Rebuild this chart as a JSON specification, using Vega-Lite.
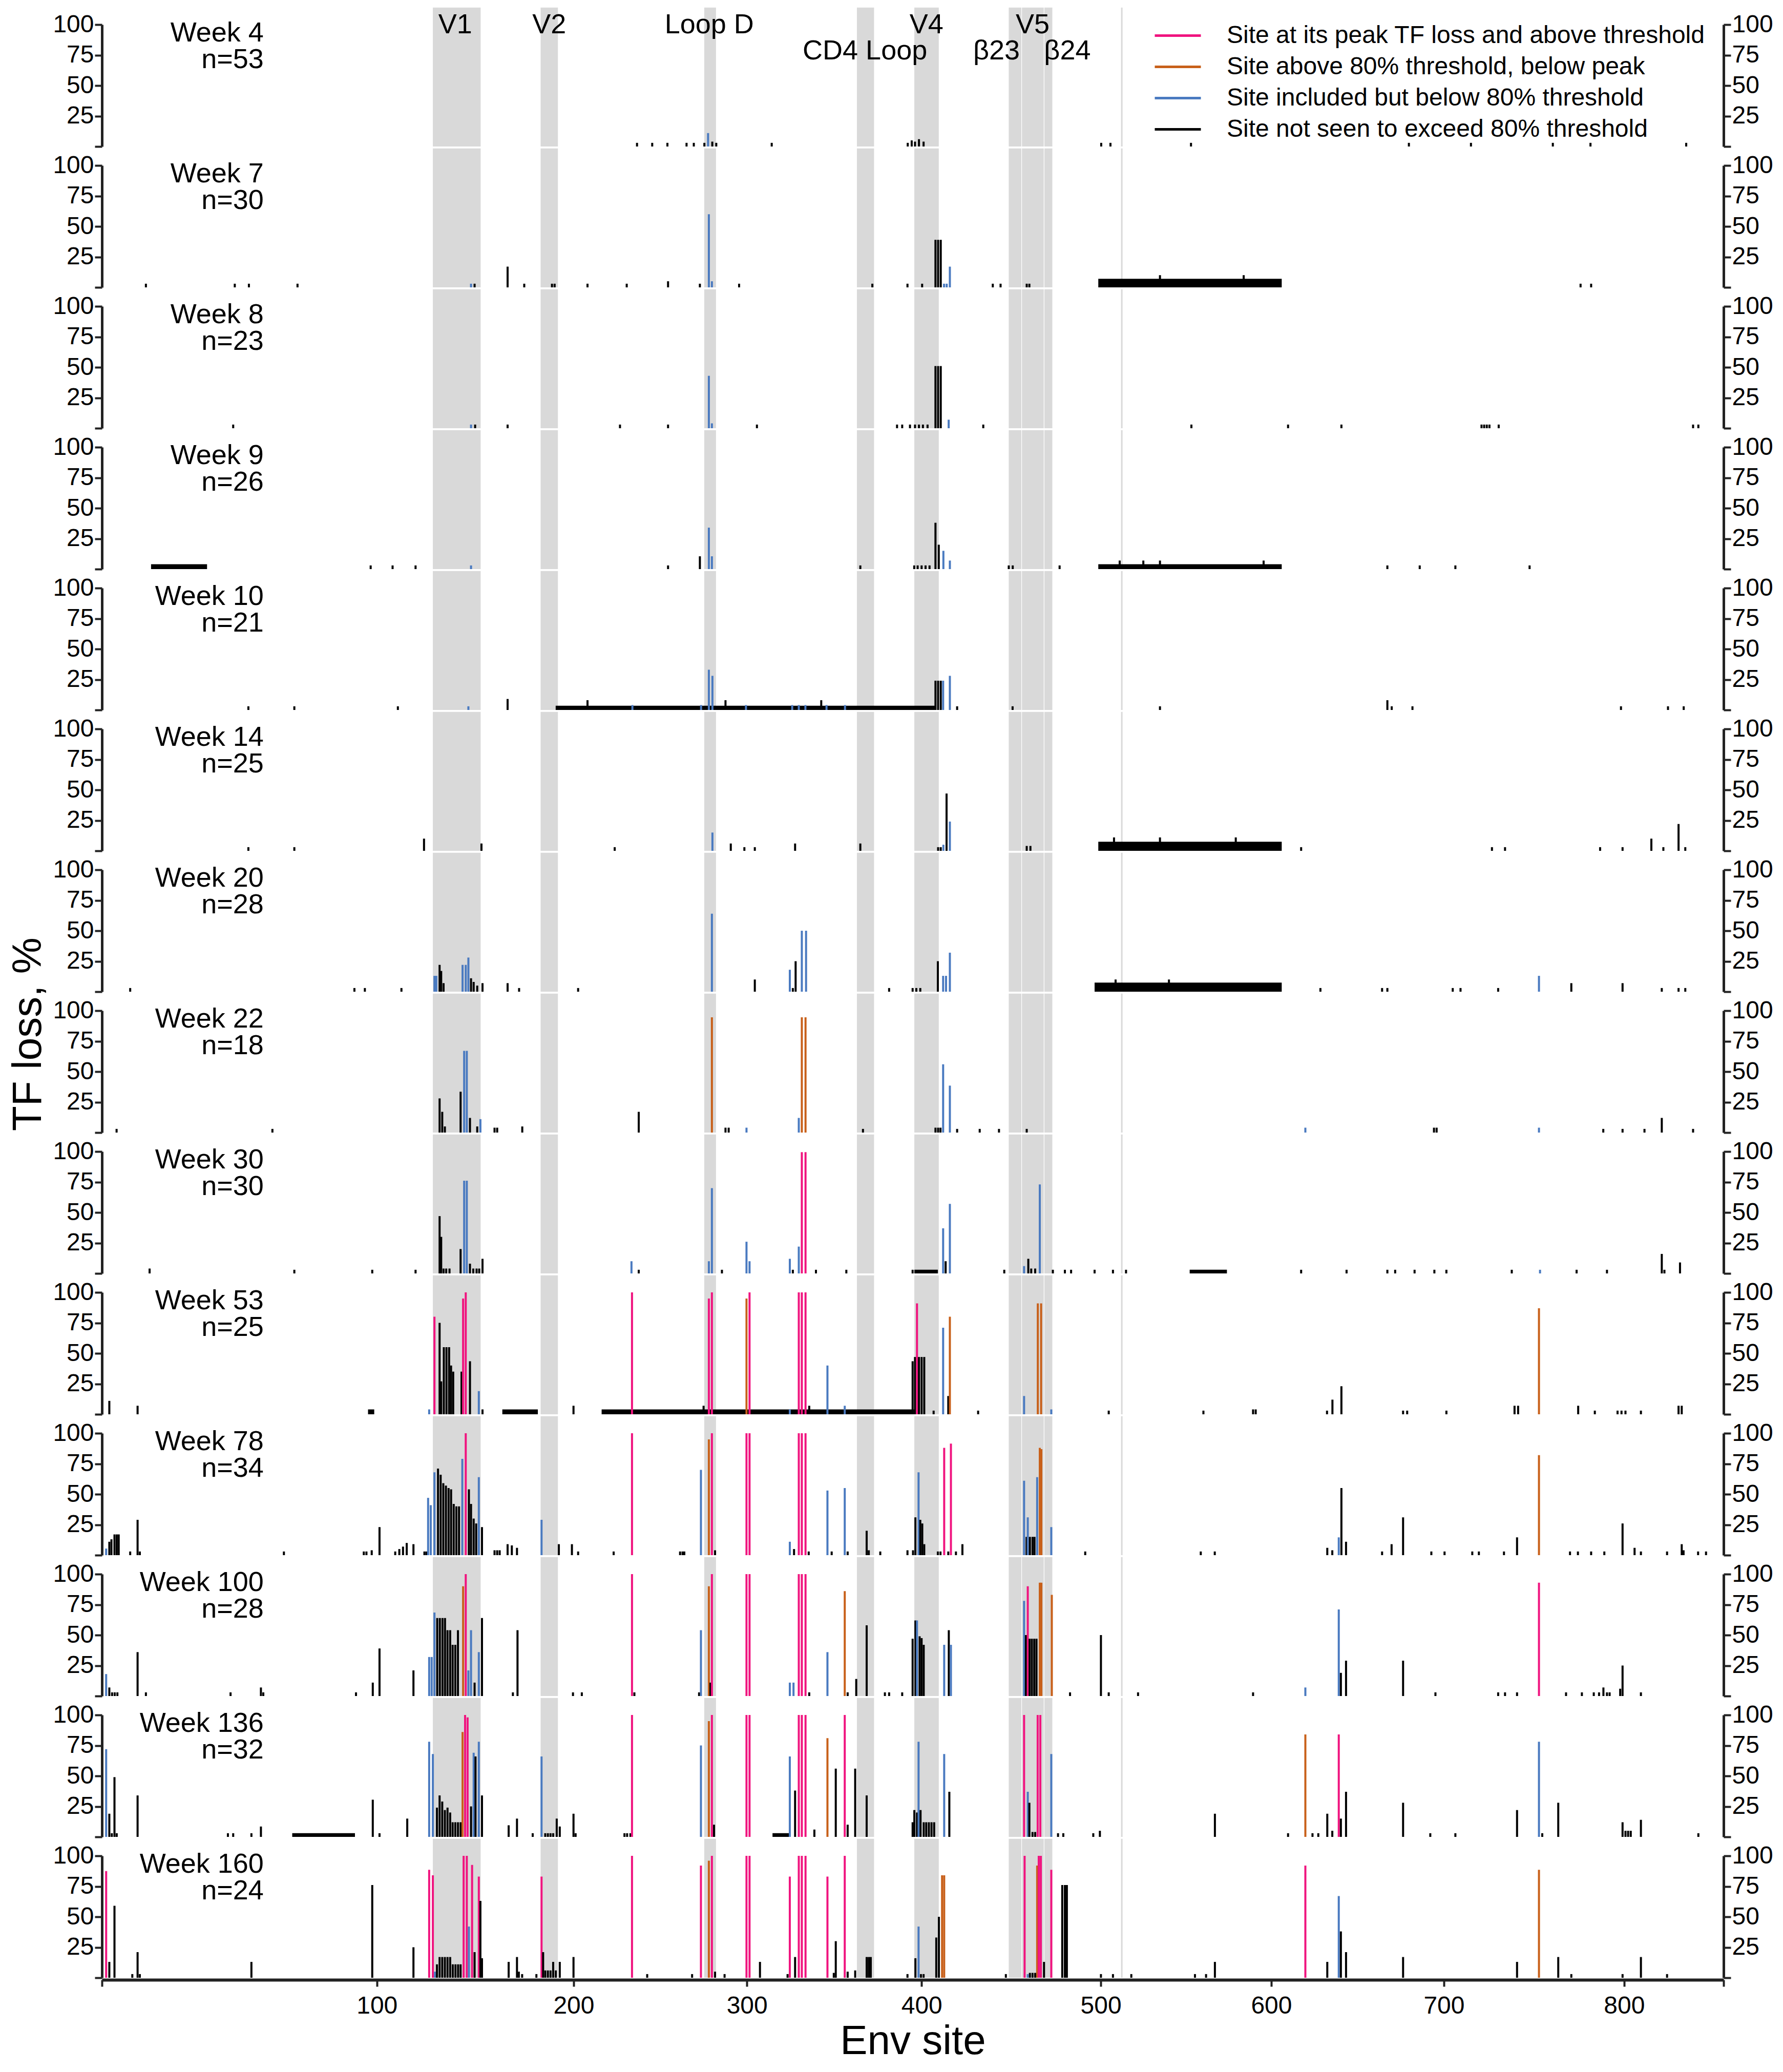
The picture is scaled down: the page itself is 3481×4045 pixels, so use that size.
{
  "$schema": "https://vega.github.io/schema/vega-lite/v6.json",
  "background": "white",
  "autosize": {"type": "pad"},
  "padding": {"top": 13, "left": 15, "right": 5, "bottom": 2},
  "spacing": 0,
  "title": {"text": "TF loss, %", "orient": "left", "anchor": "middle", "font": "Liberation Sans", "fontSize": 80, "fontWeight": "normal", "color": "#000000", "offset": 6},
  "config": {
    "view": {"stroke": null},
    "font": "Liberation Sans",
    "axis": {"labelFont": "Liberation Sans", "labelFontSize": 48, "labelColor": "#000000", "domainColor": "#222222", "domainWidth": 5, "tickColor": "#222222", "tickWidth": 4, "tickSize": 14, "labelPadding": 2, "grid": false, "titleFont": "Liberation Sans", "titleFontSize": 80, "titleFontWeight": "normal", "titleColor": "#000000"},
    "range": {"category": ["#f0147f", "#c8601a", "#4a7ac0", "#000000"]},
    "legend": {"orient": "none", "legendX": 2053, "legendY": -9, "symbolType": "stroke", "symbolSize": 8100, "symbolStrokeWidth": 5, "labelFont": "Liberation Sans", "labelFontSize": 48, "labelColor": "#000000", "labelOffset": 48, "rowPadding": 0, "clipHeight": 61, "labelLimit": 0},
    "text": {"font": "Liberation Sans", "color": "#000000"}
  },
  "datasets": {
    "bands": [
      {"name": "V1", "site": 325.9, "site_end": 362.1},
      {"name": "V2", "site": 407.5, "site_end": 420.6},
      {"name": "Loop D", "site": 531.4, "site_end": 540.3},
      {"name": "CD4 Loop", "site": 647, "site_end": 660},
      {"name": "V4", "site": 690.5, "site_end": 709},
      {"name": "β23", "site": 762, "site_end": 771.5},
      {"name": "V5", "site": 772, "site_end": 788.5},
      {"name": "β24", "site": 789, "site_end": 795}
    ],
    "bandlabels": [
      {"name": "V1", "site": 342.8, "line": 1},
      {"name": "V2", "site": 414, "line": 1},
      {"name": "Loop D", "site": 535.2, "line": 1},
      {"name": "CD4 Loop", "site": 653.1, "line": 2},
      {"name": "V4", "site": 699.7, "line": 1},
      {"name": "β23", "site": 752.7, "line": 2},
      {"name": "V5", "site": 780.1, "line": 1},
      {"name": "β24", "site": 806.4, "line": 2}
    ],
    "guide": [{"site": 847.6}],
    "panels": [
      {"week": 4, "label": "Week 4\nn=53"},
      {"week": 7, "label": "Week 7\nn=30"},
      {"week": 8, "label": "Week 8\nn=23"},
      {"week": 9, "label": "Week 9\nn=26"},
      {"week": 10, "label": "Week 10\nn=21"},
      {"week": 14, "label": "Week 14\nn=25"},
      {"week": 20, "label": "Week 20\nn=28"},
      {"week": 22, "label": "Week 22\nn=18"},
      {"week": 30, "label": "Week 30\nn=30"},
      {"week": 53, "label": "Week 53\nn=25"},
      {"week": 78, "label": "Week 78\nn=34"},
      {"week": 100, "label": "Week 100\nn=28"},
      {"week": 136, "label": "Week 136\nn=32"},
      {"week": 160, "label": "Week 160\nn=24"}
    ],
    "runs": [
      {"week": 7, "site": 829.8, "site_end": 968.7, "v": 7},
      {"week": 9, "site": 112.5, "site_end": 154.9, "v": 4},
      {"week": 9, "site": 829.8, "site_end": 968.7, "v": 4},
      {"week": 10, "site": 418.9, "site_end": 706, "v": 3.5},
      {"week": 14, "site": 829.8, "site_end": 968.7, "v": 7.5},
      {"week": 20, "site": 827, "site_end": 968.7, "v": 7.5},
      {"week": 30, "site": 690.5, "site_end": 708.3, "v": 3},
      {"week": 30, "site": 899, "site_end": 927.2, "v": 3},
      {"week": 53, "site": 276.8, "site_end": 281.5, "v": 4},
      {"week": 53, "site": 378.5, "site_end": 405.4, "v": 4},
      {"week": 53, "site": 453.7, "site_end": 690.4, "v": 4},
      {"week": 136, "site": 219.4, "site_end": 266.9, "v": 3},
      {"week": 136, "site": 583.1, "site_end": 596.2, "v": 3}
    ],
    "bars": [
      {"week":4,"site":480.5,"v":3,"k":4},{"week":4,"site":492,"v":3,"k":4},{"week":4,"site":503.5,"v":3,"k":4},{"week":4,"site":518,"v":3,"k":4},{"week":4,"site":523.5,"v":3,"k":4},{"week":4,"site":531.5,"v":3,"k":4},{"week":4,"site":534.3,"v":11,"k":3},{"week":4,"site":537.5,"v":4,"k":4},{"week":4,"site":540.5,"v":3,"k":4},{"week":4,"site":582.5,"v":3,"k":4},{"week":4,"site":685.5,"v":3,"k":4},{"week":4,"site":688.5,"v":5,"k":4},{"week":4,"site":691,"v":4,"k":4},{"week":4,"site":694,"v":6,"k":4},{"week":4,"site":697.5,"v":4,"k":4},{"week":4,"site":832,"v":3,"k":4},{"week":4,"site":839,"v":3,"k":4},{"week":4,"site":900,"v":3,"k":4},{"week":4,"site":1065,"v":3,"k":4},{"week":4,"site":1112,"v":3,"k":4},{"week":4,"site":1174,"v":3,"k":4},{"week":4,"site":1202.5,"v":3,"k":4},{"week":4,"site":1275,"v":3,"k":4},

      {"week":7,"site":108.6,"v":3,"k":4},{"week":7,"site":175.9,"v":3,"k":4},{"week":7,"site":186.6,"v":3,"k":4},{"week":7,"site":223.4,"v":3,"k":4},{"week":7,"site":354.8,"v":3,"k":3},{"week":7,"site":357.5,"v":3,"k":4},{"week":7,"site":382.5,"v":17,"k":4},{"week":7,"site":395.1,"v":3,"k":4},{"week":7,"site":416.1,"v":3,"k":4},{"week":7,"site":418.1,"v":3,"k":4},{"week":7,"site":443,"v":3,"k":4},{"week":7,"site":472.7,"v":3,"k":4},{"week":7,"site":504,"v":5,"k":4},{"week":7,"site":528.1,"v":3,"k":4},{"week":7,"site":534.9,"v":60,"k":3},{"week":7,"site":537.2,"v":5,"k":3},{"week":7,"site":557.8,"v":3,"k":4},{"week":7,"site":658.7,"v":3,"k":4},{"week":7,"site":685.3,"v":3,"k":4},{"week":7,"site":696.4,"v":3,"k":4},{"week":7,"site":706.5,"v":39,"k":4},{"week":7,"site":708.5,"v":39,"k":4},{"week":7,"site":710.5,"v":39,"k":4},{"week":7,"site":713,"v":3,"k":3},{"week":7,"site":715,"v":3,"k":3},{"week":7,"site":717.4,"v":17,"k":3},{"week":7,"site":749.9,"v":3,"k":4},{"week":7,"site":755.8,"v":3,"k":4},{"week":7,"site":775.6,"v":3,"k":4},{"week":7,"site":777.6,"v":3,"k":4},{"week":7,"site":876.5,"v":10,"k":4},{"week":7,"site":939.9,"v":10,"k":4},{"week":7,"site":1195,"v":3,"k":4},{"week":7,"site":1203,"v":3,"k":4},

      {"week":8,"site":174.7,"v":3,"k":4},{"week":8,"site":354.8,"v":3,"k":3},{"week":8,"site":357.9,"v":3,"k":4},{"week":8,"site":382.5,"v":3,"k":4},{"week":8,"site":467.6,"v":3,"k":4},{"week":8,"site":504,"v":3,"k":4},{"week":8,"site":534.9,"v":43,"k":3},{"week":8,"site":537.2,"v":4,"k":3},{"week":8,"site":571.3,"v":3,"k":4},{"week":8,"site":677.4,"v":3,"k":4},{"week":8,"site":681.3,"v":3,"k":4},{"week":8,"site":687.2,"v":3,"k":4},{"week":8,"site":691,"v":3,"k":4},{"week":8,"site":694,"v":3,"k":4},{"week":8,"site":697,"v":3,"k":4},{"week":8,"site":700.5,"v":3,"k":4},{"week":8,"site":706.5,"v":51,"k":4},{"week":8,"site":708.5,"v":51,"k":4},{"week":8,"site":710.5,"v":51,"k":4},{"week":8,"site":716.5,"v":7,"k":3},{"week":8,"site":742.7,"v":3,"k":4},{"week":8,"site":900.3,"v":3,"k":4},{"week":8,"site":973.5,"v":3,"k":4},{"week":8,"site":1013.9,"v":3,"k":4},{"week":8,"site":1120,"v":3,"k":4},{"week":8,"site":1122,"v":3,"k":4},{"week":8,"site":1124,"v":3,"k":4},{"week":8,"site":1126,"v":3,"k":4},{"week":8,"site":1133,"v":3,"k":4},{"week":8,"site":1280.2,"v":3,"k":4},{"week":8,"site":1284.2,"v":3,"k":4},

      {"week":9,"site":278.8,"v":3,"k":4},{"week":9,"site":295.4,"v":3,"k":4},{"week":9,"site":312.8,"v":3,"k":4},{"week":9,"site":354.8,"v":3,"k":3},{"week":9,"site":504,"v":3,"k":4},{"week":9,"site":528.1,"v":10.5,"k":4},{"week":9,"site":534.9,"v":34,"k":3},{"week":9,"site":537.2,"v":10.5,"k":3},{"week":9,"site":649.6,"v":3,"k":4},{"week":9,"site":690.4,"v":3,"k":4},{"week":9,"site":693,"v":3,"k":4},{"week":9,"site":696,"v":3,"k":4},{"week":9,"site":699,"v":3,"k":4},{"week":9,"site":702,"v":3,"k":4},{"week":9,"site":706.5,"v":38,"k":4},{"week":9,"site":709,"v":20,"k":4},{"week":9,"site":712.5,"v":15,"k":3},{"week":9,"site":717.4,"v":7,"k":3},{"week":9,"site":762,"v":3,"k":4},{"week":9,"site":765,"v":3,"k":4},{"week":9,"site":800.5,"v":3,"k":4},{"week":9,"site":846,"v":7,"k":4},{"week":9,"site":863.9,"v":7,"k":4},{"week":9,"site":876.5,"v":7,"k":4},{"week":9,"site":955,"v":7,"k":4},{"week":9,"site":1048.7,"v":3,"k":4},{"week":9,"site":1073.2,"v":3,"k":4},{"week":9,"site":1100.2,"v":3,"k":4},{"week":9,"site":1156.4,"v":3,"k":4},

      {"week":10,"site":186.2,"v":3,"k":4},{"week":10,"site":221,"v":3,"k":4},{"week":10,"site":299.4,"v":3,"k":4},{"week":10,"site":352.8,"v":3,"k":3},{"week":10,"site":382.5,"v":9,"k":4},{"week":10,"site":443,"v":8,"k":4},{"week":10,"site":477,"v":4,"k":3},{"week":10,"site":529,"v":4,"k":3},{"week":10,"site":534.9,"v":33,"k":3},{"week":10,"site":537.6,"v":28,"k":3},{"week":10,"site":547.5,"v":8,"k":4},{"week":10,"site":563,"v":4,"k":3},{"week":10,"site":598,"v":4,"k":3},{"week":10,"site":603,"v":4,"k":3},{"week":10,"site":608,"v":4,"k":3},{"week":10,"site":620,"v":8,"k":4},{"week":10,"site":624,"v":4,"k":3},{"week":10,"site":638,"v":4,"k":3},{"week":10,"site":706.5,"v":24,"k":4},{"week":10,"site":708.5,"v":24,"k":4},{"week":10,"site":710.5,"v":24,"k":4},{"week":10,"site":712.3,"v":24,"k":3},{"week":10,"site":717.4,"v":28,"k":3},{"week":10,"site":722.9,"v":3,"k":4},{"week":10,"site":764.9,"v":3,"k":4},{"week":10,"site":876.5,"v":3,"k":4},{"week":10,"site":1048.7,"v":8,"k":4},{"week":10,"site":1052,"v":3,"k":4},{"week":10,"site":1067.7,"v":3,"k":4},{"week":10,"site":1225.6,"v":3,"k":4},{"week":10,"site":1261.2,"v":3,"k":4},{"week":10,"site":1273.1,"v":3,"k":4},

      {"week":14,"site":186.2,"v":3,"k":4},{"week":14,"site":221,"v":3,"k":4},{"week":14,"site":319.2,"v":10,"k":4},{"week":14,"site":362.7,"v":6,"k":4},{"week":14,"site":463.6,"v":3,"k":4},{"week":14,"site":537.6,"v":15,"k":3},{"week":14,"site":551.5,"v":6,"k":4},{"week":14,"site":561.8,"v":3,"k":4},{"week":14,"site":569.7,"v":3,"k":4},{"week":14,"site":600.2,"v":6,"k":4},{"week":14,"site":649.6,"v":6,"k":4},{"week":14,"site":708.5,"v":3,"k":4},{"week":14,"site":710.5,"v":3,"k":4},{"week":14,"site":712.5,"v":5,"k":3},{"week":14,"site":714.9,"v":47,"k":4},{"week":14,"site":717.4,"v":24,"k":3},{"week":14,"site":775.6,"v":4,"k":4},{"week":14,"site":778.4,"v":4,"k":4},{"week":14,"site":841.7,"v":11,"k":4},{"week":14,"site":876.5,"v":11,"k":4},{"week":14,"site":933.9,"v":11,"k":4},{"week":14,"site":983.4,"v":3,"k":4},{"week":14,"site":1127.9,"v":3,"k":4},{"week":14,"site":1137.8,"v":3,"k":4},{"week":14,"site":1209.8,"v":3,"k":4},{"week":14,"site":1226.8,"v":3,"k":4},{"week":14,"site":1248.6,"v":10,"k":4},{"week":14,"site":1257.7,"v":3,"k":4},{"week":14,"site":1269.2,"v":22,"k":4},{"week":14,"site":1274.3,"v":3,"k":4},

      {"week":20,"site":96.7,"v":3,"k":4},{"week":20,"site":266.5,"v":3,"k":4},{"week":20,"site":274.4,"v":3,"k":4},{"week":20,"site":302.1,"v":3,"k":4},{"week":20,"site":327.1,"v":13,"k":3},{"week":20,"site":328.5,"v":13,"k":3},{"week":20,"site":331,"v":22,"k":4},{"week":20,"site":332.2,"v":17,"k":4},{"week":20,"site":334,"v":7,"k":4},{"week":20,"site":348.4,"v":22,"k":3},{"week":20,"site":350.8,"v":22,"k":3},{"week":20,"site":352.8,"v":28,"k":3},{"week":20,"site":354.8,"v":11,"k":4},{"week":20,"site":356.8,"v":8,"k":4},{"week":20,"site":359.5,"v":5,"k":4},{"week":20,"site":363.5,"v":7,"k":4},{"week":20,"site":382.5,"v":7,"k":4},{"week":20,"site":391.2,"v":3,"k":4},{"week":20,"site":435.9,"v":3,"k":4},{"week":20,"site":537.2,"v":64,"k":3},{"week":20,"site":569.7,"v":10,"k":4},{"week":20,"site":596.2,"v":18,"k":3},{"week":20,"site":598.5,"v":3,"k":4},{"week":20,"site":600.6,"v":25,"k":4},{"week":20,"site":605.3,"v":50,"k":3},{"week":20,"site":608.5,"v":50,"k":3},{"week":20,"site":671.4,"v":3,"k":4},{"week":20,"site":689.2,"v":3,"k":4},{"week":20,"site":692,"v":3,"k":4},{"week":20,"site":695,"v":3,"k":4},{"week":20,"site":708.3,"v":25,"k":4},{"week":20,"site":712.3,"v":13,"k":3},{"week":20,"site":714.5,"v":13,"k":3},{"week":20,"site":717.4,"v":32,"k":3},{"week":20,"site":842.9,"v":10,"k":4},{"week":20,"site":883.3,"v":10,"k":4},{"week":20,"site":998,"v":3,"k":4},{"week":20,"site":1044.7,"v":3,"k":4},{"week":20,"site":1048.7,"v":3,"k":4},{"week":20,"site":1098.2,"v":3,"k":4},{"week":20,"site":1104.1,"v":3,"k":4},{"week":20,"site":1132.6,"v":3,"k":4},{"week":20,"site":1163.5,"v":13,"k":3},{"week":20,"site":1188,"v":7,"k":4},{"week":20,"site":1226.8,"v":7,"k":4},{"week":20,"site":1256.5,"v":3,"k":4},{"week":20,"site":1269.2,"v":3,"k":4},{"week":20,"site":1274.3,"v":3,"k":4},

      {"week":22,"site":86.4,"v":3,"k":4},{"week":22,"site":204.4,"v":3,"k":4},{"week":22,"site":331,"v":28,"k":4},{"week":22,"site":333,"v":17,"k":4},{"week":22,"site":335,"v":5,"k":4},{"week":22,"site":346.9,"v":33.5,"k":4},{"week":22,"site":349.6,"v":67,"k":3},{"week":22,"site":351.6,"v":67,"k":3},{"week":22,"site":354,"v":12,"k":4},{"week":22,"site":359.5,"v":5,"k":4},{"week":22,"site":361.9,"v":11,"k":3},{"week":22,"site":372.6,"v":4,"k":4},{"week":22,"site":374.6,"v":4,"k":4},{"week":22,"site":393.6,"v":5,"k":4},{"week":22,"site":481.8,"v":17,"k":4},{"week":22,"site":537.2,"v":94.5,"k":2},{"week":22,"site":547.5,"v":4,"k":4},{"week":22,"site":549.9,"v":4,"k":4},{"week":22,"site":563.4,"v":4,"k":3},{"week":22,"site":603,"v":12,"k":3},{"week":22,"site":605.3,"v":94.5,"k":2},{"week":22,"site":608.1,"v":94.5,"k":2},{"week":22,"site":651.6,"v":3,"k":4},{"week":22,"site":706.5,"v":4,"k":4},{"week":22,"site":708.5,"v":4,"k":4},{"week":22,"site":710.3,"v":4,"k":4},{"week":22,"site":712.3,"v":56,"k":3},{"week":22,"site":717.4,"v":38.5,"k":3},{"week":22,"site":722.9,"v":3,"k":4},{"week":22,"site":740,"v":3,"k":4},{"week":22,"site":754.6,"v":3,"k":4},{"week":22,"site":775.6,"v":3,"k":4},{"week":22,"site":986.6,"v":4,"k":3},{"week":22,"site":1084,"v":4,"k":4},{"week":22,"site":1086,"v":4,"k":4},{"week":22,"site":1163.5,"v":4,"k":3},{"week":22,"site":1212.2,"v":3,"k":4},{"week":22,"site":1226.8,"v":3,"k":4},{"week":22,"site":1243.4,"v":3,"k":4},{"week":22,"site":1256.5,"v":12,"k":4},{"week":22,"site":1280.2,"v":3,"k":4},

      {"week":30,"site":111.4,"v":4,"k":4},{"week":30,"site":221,"v":3,"k":4},{"week":30,"site":280,"v":3,"k":4},{"week":30,"site":312.8,"v":3,"k":4},{"week":30,"site":331,"v":47,"k":4},{"week":30,"site":332.2,"v":30,"k":4},{"week":30,"site":334,"v":4,"k":4},{"week":30,"site":336,"v":4,"k":4},{"week":30,"site":338.5,"v":4,"k":4},{"week":30,"site":346.9,"v":20,"k":4},{"week":30,"site":349.6,"v":76,"k":3},{"week":30,"site":351.6,"v":76,"k":3},{"week":30,"site":354,"v":8,"k":4},{"week":30,"site":356.5,"v":4,"k":4},{"week":30,"site":359,"v":4,"k":4},{"week":30,"site":361,"v":4,"k":4},{"week":30,"site":363.5,"v":12,"k":4},{"week":30,"site":476.3,"v":10,"k":3},{"week":30,"site":481.8,"v":3,"k":4},{"week":30,"site":534.9,"v":10,"k":3},{"week":30,"site":537.2,"v":70,"k":3},{"week":30,"site":544.8,"v":3,"k":4},{"week":30,"site":563.4,"v":26,"k":3},{"week":30,"site":565.7,"v":10,"k":3},{"week":30,"site":596.2,"v":12,"k":3},{"week":30,"site":598.5,"v":3,"k":4},{"week":30,"site":603,"v":22,"k":3},{"week":30,"site":605.3,"v":99.5,"k":1},{"week":30,"site":608.1,"v":99.5,"k":1},{"week":30,"site":616,"v":3,"k":4},{"week":30,"site":639,"v":3,"k":4},{"week":30,"site":689.2,"v":3,"k":4},{"week":30,"site":712.3,"v":37,"k":3},{"week":30,"site":714.2,"v":10,"k":4},{"week":30,"site":717.4,"v":57,"k":3},{"week":30,"site":758.6,"v":3,"k":4},{"week":30,"site":773.6,"v":6,"k":3},{"week":30,"site":776.8,"v":12,"k":4},{"week":30,"site":779,"v":4,"k":4},{"week":30,"site":782,"v":4,"k":4},{"week":30,"site":785.5,"v":73,"k":3},{"week":30,"site":795.4,"v":3,"k":4},{"week":30,"site":804.5,"v":3,"k":4},{"week":30,"site":809.2,"v":3,"k":4},{"week":30,"site":827,"v":3,"k":4},{"week":30,"site":840.9,"v":3,"k":4},{"week":30,"site":850.8,"v":3,"k":4},{"week":30,"site":983.4,"v":3,"k":4},{"week":30,"site":1017.8,"v":3,"k":4},{"week":30,"site":1048.7,"v":3,"k":4},{"week":30,"site":1054.6,"v":3,"k":4},{"week":30,"site":1069.3,"v":3,"k":4},{"week":30,"site":1084.3,"v":3,"k":4},{"week":30,"site":1093.4,"v":3,"k":4},{"week":30,"site":1142.9,"v":3,"k":4},{"week":30,"site":1164.3,"v":3,"k":3},{"week":30,"site":1192,"v":3,"k":4},{"week":30,"site":1215,"v":3,"k":4},{"week":30,"site":1256.5,"v":16,"k":4},{"week":30,"site":1258.5,"v":3,"k":4},{"week":30,"site":1270.3,"v":9,"k":4},

      {"week":53,"site":80.9,"v":11,"k":4},{"week":53,"site":102.3,"v":7,"k":4},{"week":53,"site":323.1,"v":4,"k":3},{"week":53,"site":327.1,"v":80,"k":1},{"week":53,"site":331,"v":75,"k":4},{"week":53,"site":332.2,"v":27,"k":4},{"week":53,"site":334.2,"v":55,"k":4},{"week":53,"site":336.2,"v":55,"k":4},{"week":53,"site":338.2,"v":55,"k":4},{"week":53,"site":339.7,"v":40,"k":4},{"week":53,"site":341.3,"v":35,"k":4},{"week":53,"site":347.6,"v":35,"k":4},{"week":53,"site":348.8,"v":95,"k":1},{"week":53,"site":350.8,"v":100,"k":1},{"week":53,"site":354,"v":43.5,"k":4},{"week":53,"site":360.7,"v":19,"k":3},{"week":53,"site":363.5,"v":4,"k":4},{"week":53,"site":432.4,"v":7,"k":4},{"week":53,"site":476.7,"v":100,"k":1},{"week":53,"site":530.9,"v":7,"k":4},{"week":53,"site":534.9,"v":95,"k":1},{"week":53,"site":537.2,"v":100,"k":1},{"week":53,"site":563.4,"v":95,"k":2},{"week":53,"site":565.7,"v":100,"k":1},{"week":53,"site":596.2,"v":4,"k":3},{"week":53,"site":603,"v":100,"k":1},{"week":53,"site":605.3,"v":100,"k":1},{"week":53,"site":608.1,"v":100,"k":1},{"week":53,"site":610.9,"v":7,"k":4},{"week":53,"site":624.7,"v":40,"k":3},{"week":53,"site":637.8,"v":7,"k":3},{"week":53,"site":689.2,"v":43.5,"k":4},{"week":53,"site":691,"v":47,"k":4},{"week":53,"site":692.5,"v":91,"k":1},{"week":53,"site":694,"v":47,"k":4},{"week":53,"site":696,"v":47,"k":4},{"week":53,"site":698,"v":47,"k":4},{"week":53,"site":705.1,"v":3,"k":4},{"week":53,"site":712.3,"v":71,"k":3},{"week":53,"site":716.2,"v":15,"k":4},{"week":53,"site":717.4,"v":80,"k":2},{"week":53,"site":738.8,"v":3,"k":4},{"week":53,"site":773.6,"v":15,"k":3},{"week":53,"site":784,"v":91,"k":2},{"week":53,"site":786.5,"v":91,"k":2},{"week":53,"site":794.2,"v":4,"k":3},{"week":53,"site":837.7,"v":3,"k":4},{"week":53,"site":909.4,"v":3,"k":4},{"week":53,"site":947,"v":4,"k":4},{"week":53,"site":949,"v":4,"k":4},{"week":53,"site":1003,"v":3,"k":4},{"week":53,"site":1007.1,"v":12,"k":4},{"week":53,"site":1013.9,"v":23,"k":4},{"week":53,"site":1060.6,"v":3,"k":4},{"week":53,"site":1063.7,"v":3,"k":4},{"week":53,"site":1093.4,"v":3,"k":4},{"week":53,"site":1145,"v":7,"k":4},{"week":53,"site":1147.7,"v":7,"k":4},{"week":53,"site":1163.5,"v":87,"k":2},{"week":53,"site":1193.2,"v":7,"k":4},{"week":53,"site":1205.8,"v":3,"k":4},{"week":53,"site":1223,"v":3,"k":4},{"week":53,"site":1226,"v":3,"k":4},{"week":53,"site":1229,"v":3,"k":4},{"week":53,"site":1240.7,"v":3,"k":4},{"week":53,"site":1269.2,"v":7,"k":4},{"week":53,"site":1271.6,"v":7,"k":4},

      {"week":78,"site":78.5,"v":5.4,"k":3},{"week":78,"site":80.9,"v":11,"k":4},{"week":78,"site":82.5,"v":13,"k":4},{"week":78,"site":84.8,"v":17,"k":4},{"week":78,"site":86.5,"v":17,"k":4},{"week":78,"site":88,"v":17,"k":4},{"week":78,"site":96.7,"v":3,"k":4},{"week":78,"site":102.3,"v":29,"k":4},{"week":78,"site":104,"v":3,"k":4},{"week":78,"site":213.1,"v":3,"k":4},{"week":78,"site":273.6,"v":3,"k":4},{"week":78,"site":275.6,"v":3,"k":4},{"week":78,"site":279.6,"v":4,"k":4},{"week":78,"site":285.5,"v":23,"k":4},{"week":78,"site":297.4,"v":3,"k":4},{"week":78,"site":300.5,"v":5,"k":4},{"week":78,"site":303.3,"v":7,"k":4},{"week":78,"site":306.1,"v":10,"k":4},{"week":78,"site":311.2,"v":9,"k":4},{"week":78,"site":319.5,"v":3,"k":4},{"week":78,"site":321,"v":3,"k":4},{"week":78,"site":322.3,"v":47,"k":3},{"week":78,"site":324.3,"v":41,"k":3},{"week":78,"site":327.1,"v":68,"k":3},{"week":78,"site":329.8,"v":71,"k":4},{"week":78,"site":331.8,"v":66,"k":4},{"week":78,"site":333.8,"v":59,"k":4},{"week":78,"site":335.8,"v":57,"k":4},{"week":78,"site":337.8,"v":55,"k":4},{"week":78,"site":339.7,"v":54,"k":4},{"week":78,"site":341.7,"v":42,"k":4},{"week":78,"site":343.7,"v":40,"k":4},{"week":78,"site":345.7,"v":40,"k":4},{"week":78,"site":348.2,"v":79,"k":3},{"week":78,"site":350.8,"v":100,"k":1},{"week":78,"site":353.2,"v":54,"k":4},{"week":78,"site":354.8,"v":42,"k":4},{"week":78,"site":356.8,"v":30,"k":4},{"week":78,"site":358.7,"v":26,"k":4},{"week":78,"site":360.7,"v":64,"k":3},{"week":78,"site":363.1,"v":23,"k":4},{"week":78,"site":372.6,"v":4,"k":4},{"week":78,"site":374.6,"v":4,"k":4},{"week":78,"site":376.5,"v":4,"k":4},{"week":78,"site":382.5,"v":9,"k":4},{"week":78,"site":385.7,"v":8,"k":4},{"week":78,"site":389.6,"v":6,"k":4},{"week":78,"site":408.2,"v":29,"k":3},{"week":78,"site":421.3,"v":9,"k":4},{"week":78,"site":431.2,"v":9,"k":4},{"week":78,"site":435.9,"v":3,"k":4},{"week":78,"site":462.8,"v":3,"k":4},{"week":78,"site":476.7,"v":100,"k":1},{"week":78,"site":513.1,"v":3,"k":4},{"week":78,"site":515,"v":3,"k":4},{"week":78,"site":516.3,"v":3,"k":4},{"week":78,"site":528.9,"v":70,"k":3},{"week":78,"site":534.9,"v":95,"k":2},{"week":78,"site":537.2,"v":100,"k":1},{"week":78,"site":539.6,"v":4,"k":4},{"week":78,"site":563.4,"v":100,"k":1},{"week":78,"site":565.7,"v":100,"k":1},{"week":78,"site":596.2,"v":11,"k":3},{"week":78,"site":599.4,"v":5,"k":4},{"week":78,"site":603,"v":100,"k":1},{"week":78,"site":605.3,"v":100,"k":1},{"week":78,"site":608.1,"v":100,"k":1},{"week":78,"site":610.5,"v":3,"k":4},{"week":78,"site":624.7,"v":53,"k":3},{"week":78,"site":627.9,"v":3,"k":4},{"week":78,"site":637.8,"v":55,"k":3},{"week":78,"site":640,"v":3,"k":4},{"week":78,"site":654.4,"v":20,"k":4},{"week":78,"site":656,"v":4,"k":4},{"week":78,"site":664.7,"v":3,"k":4},{"week":78,"site":685.3,"v":4,"k":4},{"week":78,"site":689.5,"v":4,"k":4},{"week":78,"site":691.3,"v":31,"k":4},{"week":78,"site":693.7,"v":68,"k":3},{"week":78,"site":695,"v":29,"k":4},{"week":78,"site":696.5,"v":26,"k":4},{"week":78,"site":698,"v":9,"k":4},{"week":78,"site":708.3,"v":3,"k":4},{"week":78,"site":710.3,"v":3,"k":4},{"week":78,"site":713.1,"v":88,"k":1},{"week":78,"site":716.2,"v":3,"k":4},{"week":78,"site":718.2,"v":91.5,"k":1},{"week":78,"site":722,"v":3,"k":4},{"week":78,"site":726.9,"v":9,"k":4},{"week":78,"site":773.6,"v":61,"k":3},{"week":78,"site":775.5,"v":15,"k":4},{"week":78,"site":776.4,"v":31,"k":3},{"week":78,"site":778,"v":15,"k":4},{"week":78,"site":780,"v":15,"k":4},{"week":78,"site":781.5,"v":15,"k":4},{"week":78,"site":783.5,"v":64,"k":3},{"week":78,"site":785.5,"v":88,"k":2},{"week":78,"site":786.7,"v":87,"k":2},{"week":78,"site":794.2,"v":23,"k":3},{"week":78,"site":819.9,"v":3,"k":4},{"week":78,"site":907.4,"v":3,"k":4},{"week":78,"site":918,"v":3,"k":4},{"week":78,"site":1003.2,"v":6,"k":4},{"week":78,"site":1007,"v":4,"k":4},{"week":78,"site":1011.9,"v":14.6,"k":3},{"week":78,"site":1013.9,"v":55,"k":4},{"week":78,"site":1017.4,"v":11,"k":4},{"week":78,"site":1044.7,"v":3,"k":4},{"week":78,"site":1051.9,"v":9,"k":4},{"week":78,"site":1060.6,"v":31,"k":4},{"week":78,"site":1082,"v":3,"k":4},{"week":78,"site":1092,"v":3,"k":4},{"week":78,"site":1113,"v":3,"k":4},{"week":78,"site":1118,"v":3,"k":4},{"week":78,"site":1137,"v":3,"k":4},{"week":78,"site":1146.9,"v":14.6,"k":4},{"week":78,"site":1163.5,"v":82,"k":2},{"week":78,"site":1187,"v":3,"k":4},{"week":78,"site":1193,"v":3,"k":4},{"week":78,"site":1203,"v":3,"k":4},{"week":78,"site":1213,"v":3,"k":4},{"week":78,"site":1226.8,"v":26,"k":4},{"week":78,"site":1235.9,"v":6,"k":4},{"week":78,"site":1240.7,"v":3,"k":4},{"week":78,"site":1260.5,"v":3,"k":4},{"week":78,"site":1271.6,"v":9,"k":4},{"week":78,"site":1273,"v":4,"k":4},{"week":78,"site":1284,"v":3,"k":4},{"week":78,"site":1290,"v":3,"k":4},

      {"week":100,"site":78.5,"v":18,"k":3},{"week":100,"site":80.9,"v":7,"k":4},{"week":100,"site":83,"v":3,"k":4},{"week":100,"site":85,"v":3,"k":4},{"week":100,"site":87,"v":3,"k":4},{"week":100,"site":102.3,"v":36,"k":4},{"week":100,"site":108.6,"v":3,"k":4},{"week":100,"site":172.7,"v":3,"k":4},{"week":100,"site":195.7,"v":7,"k":4},{"week":100,"site":197.5,"v":3,"k":4},{"week":100,"site":267.7,"v":3,"k":4},{"week":100,"site":280.4,"v":11,"k":4},{"week":100,"site":285.5,"v":39,"k":4},{"week":100,"site":311.2,"v":21,"k":4},{"week":100,"site":323.1,"v":32,"k":3},{"week":100,"site":325,"v":32,"k":3},{"week":100,"site":327.1,"v":68.5,"k":3},{"week":100,"site":329.2,"v":64,"k":4},{"week":100,"site":331.2,"v":64,"k":4},{"week":100,"site":333.2,"v":64,"k":4},{"week":100,"site":335.1,"v":64,"k":4},{"week":100,"site":337,"v":54,"k":4},{"week":100,"site":339,"v":54,"k":4},{"week":100,"site":340.9,"v":42,"k":4},{"week":100,"site":342.9,"v":42,"k":4},{"week":100,"site":344.9,"v":54,"k":4},{"week":100,"site":348.8,"v":90,"k":2},{"week":100,"site":350.8,"v":100,"k":1},{"week":100,"site":352.8,"v":21,"k":3},{"week":100,"site":354.8,"v":54,"k":3},{"week":100,"site":357.5,"v":11,"k":4},{"week":100,"site":360.7,"v":36,"k":3},{"week":100,"site":363.1,"v":64,"k":4},{"week":100,"site":386.5,"v":3,"k":4},{"week":100,"site":390,"v":54,"k":4},{"week":100,"site":432,"v":3,"k":4},{"week":100,"site":438.7,"v":3,"k":4},{"week":100,"site":476.7,"v":100,"k":1},{"week":100,"site":478.5,"v":3,"k":4},{"week":100,"site":527.5,"v":3,"k":4},{"week":100,"site":528.9,"v":54,"k":3},{"week":100,"site":534.9,"v":90,"k":2},{"week":100,"site":536.1,"v":11,"k":4},{"week":100,"site":537.2,"v":100,"k":1},{"week":100,"site":563.4,"v":100,"k":1},{"week":100,"site":565.7,"v":100,"k":1},{"week":100,"site":596.2,"v":11,"k":3},{"week":100,"site":599,"v":11,"k":3},{"week":100,"site":603,"v":100,"k":1},{"week":100,"site":605.3,"v":100,"k":1},{"week":100,"site":608.1,"v":100,"k":1},{"week":100,"site":610.9,"v":3,"k":4},{"week":100,"site":624.7,"v":36,"k":3},{"week":100,"site":637.8,"v":86,"k":2},{"week":100,"site":640,"v":3,"k":4},{"week":100,"site":646.5,"v":14,"k":4},{"week":100,"site":654.4,"v":58,"k":4},{"week":100,"site":668.2,"v":3,"k":4},{"week":100,"site":671.4,"v":3,"k":4},{"week":100,"site":681.3,"v":3,"k":4},{"week":100,"site":689.2,"v":47,"k":4},{"week":100,"site":691.3,"v":62,"k":4},{"week":100,"site":692.5,"v":62,"k":3},{"week":100,"site":694.5,"v":49,"k":4},{"week":100,"site":696,"v":47.5,"k":4},{"week":100,"site":697.6,"v":42,"k":4},{"week":100,"site":713.1,"v":42,"k":3},{"week":100,"site":716.6,"v":54,"k":4},{"week":100,"site":718.2,"v":42,"k":3},{"week":100,"site":773.6,"v":78,"k":3},{"week":100,"site":775,"v":50,"k":4},{"week":100,"site":776.4,"v":90,"k":1},{"week":100,"site":777.8,"v":47,"k":4},{"week":100,"site":779.5,"v":47,"k":4},{"week":100,"site":781.3,"v":47,"k":4},{"week":100,"site":783,"v":47,"k":4},{"week":100,"site":785.5,"v":93,"k":2},{"week":100,"site":786.7,"v":93,"k":2},{"week":100,"site":794.6,"v":83,"k":2},{"week":100,"site":808.4,"v":3,"k":4},{"week":100,"site":831.8,"v":50,"k":4},{"week":100,"site":837.7,"v":3,"k":4},{"week":100,"site":859.9,"v":3,"k":4},{"week":100,"site":947,"v":3,"k":4},{"week":100,"site":986.6,"v":7,"k":3},{"week":100,"site":1011.9,"v":71,"k":3},{"week":100,"site":1013.5,"v":19,"k":4},{"week":100,"site":1017.4,"v":29,"k":4},{"week":100,"site":1060.6,"v":29,"k":4},{"week":100,"site":1085.1,"v":3,"k":4},{"week":100,"site":1132.6,"v":3,"k":4},{"week":100,"site":1137.8,"v":3,"k":4},{"week":100,"site":1146.9,"v":3,"k":4},{"week":100,"site":1163.5,"v":93,"k":1},{"week":100,"site":1184,"v":3,"k":4},{"week":100,"site":1196,"v":3,"k":4},{"week":100,"site":1205,"v":3,"k":4},{"week":100,"site":1209,"v":3,"k":4},{"week":100,"site":1212.3,"v":7,"k":4},{"week":100,"site":1215,"v":3,"k":4},{"week":100,"site":1217,"v":3,"k":4},{"week":100,"site":1225,"v":6,"k":4},{"week":100,"site":1226.8,"v":25,"k":4},{"week":100,"site":1240.7,"v":3,"k":4},

      {"week":136,"site":78.5,"v":72,"k":3},{"week":136,"site":80.9,"v":19,"k":4},{"week":136,"site":82.8,"v":3,"k":4},{"week":136,"site":84.8,"v":49,"k":4},{"week":136,"site":86.5,"v":3,"k":4},{"week":136,"site":102.3,"v":34,"k":4},{"week":136,"site":170.7,"v":3,"k":4},{"week":136,"site":174.7,"v":3,"k":4},{"week":136,"site":188.5,"v":3,"k":4},{"week":136,"site":195.7,"v":8.5,"k":4},{"week":136,"site":280.4,"v":30.5,"k":4},{"week":136,"site":285.5,"v":3,"k":4},{"week":136,"site":306.5,"v":15,"k":4},{"week":136,"site":323.1,"v":78,"k":3},{"week":136,"site":325.9,"v":68,"k":3},{"week":136,"site":329,"v":24,"k":4},{"week":136,"site":331,"v":34,"k":4},{"week":136,"site":333,"v":29,"k":4},{"week":136,"site":335,"v":22,"k":4},{"week":136,"site":337,"v":24,"k":4},{"week":136,"site":339,"v":20,"k":4},{"week":136,"site":340.9,"v":12,"k":4},{"week":136,"site":342.9,"v":12,"k":4},{"week":136,"site":344.9,"v":12,"k":4},{"week":136,"site":346.9,"v":12,"k":4},{"week":136,"site":348.4,"v":86,"k":2},{"week":136,"site":350.3,"v":100,"k":1},{"week":136,"site":352.2,"v":98,"k":1},{"week":136,"site":354.8,"v":25,"k":4},{"week":136,"site":356.8,"v":69,"k":3},{"week":136,"site":358.2,"v":66,"k":4},{"week":136,"site":360.7,"v":78,"k":3},{"week":136,"site":363.1,"v":34,"k":4},{"week":136,"site":383.3,"v":9.5,"k":4},{"week":136,"site":389.6,"v":15,"k":4},{"week":136,"site":401.5,"v":3,"k":4},{"week":136,"site":408.2,"v":66,"k":3},{"week":136,"site":411,"v":3,"k":4},{"week":136,"site":413,"v":3,"k":4},{"week":136,"site":415,"v":3,"k":4},{"week":136,"site":417,"v":3,"k":4},{"week":136,"site":419.7,"v":15,"k":4},{"week":136,"site":422,"v":8.5,"k":4},{"week":136,"site":432.4,"v":19,"k":4},{"week":136,"site":434,"v":3,"k":4},{"week":136,"site":471,"v":3,"k":4},{"week":136,"site":473,"v":3,"k":4},{"week":136,"site":475.5,"v":3,"k":4},{"week":136,"site":476.7,"v":100,"k":1},{"week":136,"site":528.9,"v":75,"k":3},{"week":136,"site":534.9,"v":95,"k":2},{"week":136,"site":537.2,"v":100,"k":1},{"week":136,"site":538.8,"v":10,"k":4},{"week":136,"site":563.4,"v":100,"k":1},{"week":136,"site":565.7,"v":100,"k":1},{"week":136,"site":596.2,"v":66,"k":3},{"week":136,"site":600.2,"v":38,"k":4},{"week":136,"site":603,"v":100,"k":1},{"week":136,"site":605.3,"v":100,"k":1},{"week":136,"site":608.1,"v":100,"k":1},{"week":136,"site":614.8,"v":6,"k":4},{"week":136,"site":624.7,"v":81,"k":2},{"week":136,"site":631,"v":56,"k":4},{"week":136,"site":637.8,"v":100,"k":1},{"week":136,"site":640,"v":10,"k":4},{"week":136,"site":645.7,"v":56,"k":4},{"week":136,"site":654.4,"v":34,"k":4},{"week":136,"site":689.2,"v":12,"k":4},{"week":136,"site":690.5,"v":22,"k":4},{"week":136,"site":692.5,"v":20,"k":4},{"week":136,"site":693.7,"v":78,"k":3},{"week":136,"site":695.2,"v":22,"k":4},{"week":136,"site":697.6,"v":12,"k":4},{"week":136,"site":699.5,"v":12,"k":4},{"week":136,"site":701.5,"v":12,"k":4},{"week":136,"site":703.5,"v":12,"k":4},{"week":136,"site":705.5,"v":12,"k":4},{"week":136,"site":713.1,"v":68,"k":3},{"week":136,"site":717,"v":37,"k":4},{"week":136,"site":773.6,"v":100,"k":1},{"week":136,"site":776.4,"v":37,"k":3},{"week":136,"site":777.6,"v":28,"k":4},{"week":136,"site":780,"v":4,"k":4},{"week":136,"site":782,"v":4,"k":4},{"week":136,"site":783.9,"v":100,"k":1},{"week":136,"site":785.9,"v":100,"k":1},{"week":136,"site":794.2,"v":68,"k":3},{"week":136,"site":799.3,"v":3,"k":4},{"week":136,"site":803.3,"v":3,"k":4},{"week":136,"site":826,"v":3,"k":4},{"week":136,"site":831,"v":5,"k":4},{"week":136,"site":918.1,"v":19,"k":4},{"week":136,"site":973.5,"v":3,"k":4},{"week":136,"site":986.6,"v":84,"k":2},{"week":136,"site":992,"v":3,"k":4},{"week":136,"site":996.4,"v":3,"k":4},{"week":136,"site":1003.2,"v":19,"k":4},{"week":136,"site":1007,"v":5,"k":4},{"week":136,"site":1011.9,"v":84,"k":1},{"week":136,"site":1013.5,"v":15,"k":4},{"week":136,"site":1017.4,"v":37,"k":4},{"week":136,"site":1060.6,"v":28,"k":4},{"week":136,"site":1081.2,"v":3,"k":4},{"week":136,"site":1100.2,"v":3,"k":4},{"week":136,"site":1146.9,"v":22,"k":4},{"week":136,"site":1163.5,"v":78,"k":3},{"week":136,"site":1166,"v":3,"k":4},{"week":136,"site":1178.1,"v":28,"k":4},{"week":136,"site":1226.8,"v":12,"k":4},{"week":136,"site":1229,"v":5,"k":4},{"week":136,"site":1231,"v":5,"k":4},{"week":136,"site":1233,"v":5,"k":4},{"week":136,"site":1240.7,"v":14,"k":4},{"week":136,"site":1284.2,"v":3,"k":4},

      {"week":160,"site":78.5,"v":87.5,"k":1},{"week":160,"site":80.9,"v":13,"k":4},{"week":160,"site":84.8,"v":59,"k":4},{"week":160,"site":98.3,"v":3,"k":4},{"week":160,"site":102.3,"v":21,"k":4},{"week":160,"site":104,"v":3,"k":4},{"week":160,"site":188.5,"v":13,"k":4},{"week":160,"site":280,"v":76,"k":4},{"week":160,"site":311.2,"v":25,"k":4},{"week":160,"site":323.1,"v":88.5,"k":1},{"week":160,"site":325.9,"v":84,"k":1},{"week":160,"site":327.5,"v":5,"k":3},{"week":160,"site":329,"v":11,"k":4},{"week":160,"site":331,"v":17,"k":4},{"week":160,"site":333,"v":17,"k":4},{"week":160,"site":335,"v":17,"k":4},{"week":160,"site":337,"v":17,"k":4},{"week":160,"site":339,"v":17,"k":4},{"week":160,"site":341,"v":11,"k":4},{"week":160,"site":343,"v":11,"k":4},{"week":160,"site":345,"v":11,"k":4},{"week":160,"site":346.9,"v":11,"k":4},{"week":160,"site":349.2,"v":100,"k":1},{"week":160,"site":351.6,"v":100,"k":1},{"week":160,"site":353.2,"v":42,"k":3},{"week":160,"site":355.6,"v":92.5,"k":1},{"week":160,"site":357.5,"v":21,"k":4},{"week":160,"site":360.7,"v":83,"k":1},{"week":160,"site":361.9,"v":63,"k":4},{"week":160,"site":363.1,"v":16,"k":4},{"week":160,"site":383.3,"v":13,"k":4},{"week":160,"site":389.6,"v":17,"k":4},{"week":160,"site":391,"v":5,"k":4},{"week":160,"site":393.5,"v":3,"k":4},{"week":160,"site":404.3,"v":3,"k":4},{"week":160,"site":408.2,"v":83,"k":1},{"week":160,"site":409.4,"v":21,"k":4},{"week":160,"site":411,"v":6,"k":4},{"week":160,"site":413,"v":6,"k":4},{"week":160,"site":415,"v":6,"k":4},{"week":160,"site":417,"v":13,"k":4},{"week":160,"site":419,"v":6,"k":4},{"week":160,"site":422,"v":13,"k":4},{"week":160,"site":432.4,"v":17,"k":4},{"week":160,"site":476.7,"v":100,"k":1},{"week":160,"site":488.2,"v":3,"k":4},{"week":160,"site":522.2,"v":3,"k":4},{"week":160,"site":528.9,"v":92,"k":1},{"week":160,"site":534.9,"v":96,"k":2},{"week":160,"site":537.2,"v":100,"k":1},{"week":160,"site":539.6,"v":5,"k":4},{"week":160,"site":546.8,"v":3,"k":4},{"week":160,"site":563.4,"v":100,"k":1},{"week":160,"site":565.7,"v":100,"k":1},{"week":160,"site":573.6,"v":13,"k":4},{"week":160,"site":594.5,"v":3,"k":4},{"week":160,"site":596.2,"v":83,"k":1},{"week":160,"site":600.2,"v":17,"k":4},{"week":160,"site":603,"v":100,"k":1},{"week":160,"site":605.3,"v":100,"k":1},{"week":160,"site":608.1,"v":100,"k":1},{"week":160,"site":624.7,"v":83,"k":1},{"week":160,"site":629.5,"v":4,"k":4},{"week":160,"site":631,"v":30,"k":4},{"week":160,"site":637.8,"v":100,"k":1},{"week":160,"site":640,"v":5,"k":4},{"week":160,"site":645.7,"v":6,"k":4},{"week":160,"site":654.4,"v":17,"k":4},{"week":160,"site":656,"v":17,"k":4},{"week":160,"site":657.5,"v":17,"k":4},{"week":160,"site":685.3,"v":3,"k":4},{"week":160,"site":691.3,"v":16,"k":4},{"week":160,"site":693.7,"v":42,"k":3},{"week":160,"site":695.5,"v":3,"k":4},{"week":160,"site":697.5,"v":3,"k":4},{"week":160,"site":707.1,"v":33,"k":4},{"week":160,"site":709.1,"v":50,"k":4},{"week":160,"site":711.5,"v":84,"k":2},{"week":160,"site":713.1,"v":84,"k":2},{"week":160,"site":759.8,"v":3,"k":4},{"week":160,"site":774,"v":100,"k":1},{"week":160,"site":776.4,"v":3,"k":3},{"week":160,"site":778,"v":4,"k":4},{"week":160,"site":780,"v":4,"k":4},{"week":160,"site":782,"v":4,"k":4},{"week":160,"site":783.5,"v":92,"k":2},{"week":160,"site":784.7,"v":100,"k":1},{"week":160,"site":786.3,"v":100,"k":1},{"week":160,"site":788.7,"v":13,"k":4},{"week":160,"site":794.2,"v":88.5,"k":1},{"week":160,"site":802.5,"v":76,"k":4},{"week":160,"site":804.5,"v":76,"k":4},{"week":160,"site":806,"v":76,"k":4},{"week":160,"site":831.8,"v":3,"k":4},{"week":160,"site":840.9,"v":3,"k":4},{"week":160,"site":854.8,"v":3,"k":4},{"week":160,"site":903,"v":3,"k":4},{"week":160,"site":911.4,"v":3,"k":4},{"week":160,"site":918.1,"v":13,"k":4},{"week":160,"site":986.6,"v":92,"k":1},{"week":160,"site":1003.2,"v":13,"k":4},{"week":160,"site":1011.9,"v":67,"k":3},{"week":160,"site":1013.5,"v":38,"k":4},{"week":160,"site":1017.4,"v":21,"k":4},{"week":160,"site":1060.6,"v":17,"k":4},{"week":160,"site":1146.9,"v":13,"k":4},{"week":160,"site":1163.5,"v":88.5,"k":2},{"week":160,"site":1178.1,"v":17,"k":4},{"week":160,"site":1188,"v":3,"k":4},{"week":160,"site":1226.8,"v":3,"k":4},{"week":160,"site":1240.7,"v":17,"k":4},{"week":160,"site":1260.5,"v":3,"k":4}
    ]
  },
  "vconcat": [
    {
      "width": 3166, "height": 238,
      "layer": [
        {"data": {"name": "bands"}, "mark": {"type": "rect", "color": "#d9d9d9"}, "encoding": {"x": {"field": "site", "type": "quantitative", "scale": {"domain": [75.3, 1303.3], "nice": false, "zero": false}, "axis": null}, "x2": {"field": "site_end"}, "y": {"datum": 0, "type": "quantitative", "axis": null}, "y2": {"datum": 114}}},
        {"data": {"name": "guide"}, "mark": {"type": "rule", "color": "#d9d9d9", "strokeWidth": 3}, "encoding": {"x": {"field": "site", "type": "quantitative", "axis": null}, "y": {"datum": 0, "type": "quantitative", "axis": null}, "y2": {"datum": 114}}},
        {"data": {"name": "runs"}, "transform": [{"filter": "datum.week == 4"}], "mark": {"type": "rect", "color": "#000000"}, "encoding": {"x": {"field": "site", "type": "quantitative", "axis": null}, "x2": {"field": "site_end"}, "y": {"field": "v", "type": "quantitative", "axis": {"orient": "right", "title": null, "values": [0, 25, 50, 75, 100], "labelExpr": "datum.value == 0 ? '' : datum.label"}}, "y2": {"datum": 0}}},
        {"data": {"name": "bars"}, "transform": [{"filter": "datum.week == 4"}], "mark": {"type": "rule", "strokeWidth": 4}, "encoding": {"x": {"field": "site", "type": "quantitative", "axis": null}, "y": {"field": "v", "type": "quantitative", "scale": {"domain": [0, 100], "nice": false}, "axis": {"orient": "left", "title": null, "values": [0, 25, 50, 75, 100], "labelExpr": "datum.value == 0 ? '' : datum.label"}}, "y2": {"datum": 0}, "color": {"field": "k", "type": "nominal", "title": null, "legend": {"clipHeight": 61, "rowPadding": 0, "labelExpr": "['', 'Site at its peak TF loss and above threshold', 'Site above 80% threshold, below peak', 'Site included but below 80% threshold', 'Site not seen to exceed 80% threshold'][datum.value]"}}}},
        {"data": {"name": "panels"}, "transform": [{"filter": "datum.week == 4"}], "mark": {"type": "text", "align": "right", "baseline": "alphabetic", "lineBreak": "\n", "lineHeight": 52, "fontSize": 54}, "encoding": {"x": {"datum": 197.8, "type": "quantitative", "axis": null}, "y": {"datum": 86, "type": "quantitative", "axis": null}, "text": {"field": "label"}}},
        {"data": {"name": "bandlabels"}, "transform": [{"filter": "datum.line == 1"}], "mark": {"type": "text", "align": "center", "baseline": "alphabetic", "fontSize": 54}, "encoding": {"x": {"field": "site", "type": "quantitative", "axis": null}, "y": {"datum": 93, "type": "quantitative", "axis": null}, "text": {"field": "name"}}},
        {"data": {"name": "bandlabels"}, "transform": [{"filter": "datum.line == 2"}], "mark": {"type": "text", "align": "center", "baseline": "alphabetic", "fontSize": 54}, "encoding": {"x": {"field": "site", "type": "quantitative", "axis": null}, "y": {"datum": 71.5, "type": "quantitative", "axis": null}, "text": {"field": "name"}}}
      ],
      "resolve": {"axis": {"y": "independent"}}
    },
    {
      "width": 3166, "height": 238,
      "layer": [
        {"data": {"name": "bands"}, "mark": {"type": "rect", "color": "#d9d9d9"}, "encoding": {"x": {"field": "site", "type": "quantitative", "scale": {"domain": [75.3, 1303.3], "nice": false, "zero": false}, "axis": null}, "x2": {"field": "site_end"}, "y": {"datum": 0, "type": "quantitative", "axis": null}, "y2": {"datum": 114}}},
        {"data": {"name": "guide"}, "mark": {"type": "rule", "color": "#d9d9d9", "strokeWidth": 3}, "encoding": {"x": {"field": "site", "type": "quantitative", "axis": null}, "y": {"datum": 0, "type": "quantitative", "axis": null}, "y2": {"datum": 114}}},
        {"data": {"name": "runs"}, "transform": [{"filter": "datum.week == 7"}], "mark": {"type": "rect", "color": "#000000"}, "encoding": {"x": {"field": "site", "type": "quantitative", "axis": null}, "x2": {"field": "site_end"}, "y": {"field": "v", "type": "quantitative", "axis": {"orient": "right", "title": null, "values": [0, 25, 50, 75, 100], "labelExpr": "datum.value == 0 ? '' : datum.label"}}, "y2": {"datum": 0}}},
        {"data": {"name": "bars"}, "transform": [{"filter": "datum.week == 7"}], "mark": {"type": "rule", "strokeWidth": 4}, "encoding": {"x": {"field": "site", "type": "quantitative", "axis": null}, "y": {"field": "v", "type": "quantitative", "scale": {"domain": [0, 100], "nice": false}, "axis": {"orient": "left", "title": null, "values": [0, 25, 50, 75, 100], "labelExpr": "datum.value == 0 ? '' : datum.label"}}, "y2": {"datum": 0}, "color": {"field": "k", "type": "nominal", "legend": null}}},
        {"data": {"name": "panels"}, "transform": [{"filter": "datum.week == 7"}], "mark": {"type": "text", "align": "right", "baseline": "alphabetic", "lineBreak": "\n", "lineHeight": 52, "fontSize": 54}, "encoding": {"x": {"datum": 197.8, "type": "quantitative", "axis": null}, "y": {"datum": 86, "type": "quantitative", "axis": null}, "text": {"field": "label"}}}
      ],
      "resolve": {"axis": {"y": "independent"}}
    },
    {
      "width": 3166, "height": 238,
      "layer": [
        {"data": {"name": "bands"}, "mark": {"type": "rect", "color": "#d9d9d9"}, "encoding": {"x": {"field": "site", "type": "quantitative", "scale": {"domain": [75.3, 1303.3], "nice": false, "zero": false}, "axis": null}, "x2": {"field": "site_end"}, "y": {"datum": 0, "type": "quantitative", "axis": null}, "y2": {"datum": 114}}},
        {"data": {"name": "guide"}, "mark": {"type": "rule", "color": "#d9d9d9", "strokeWidth": 3}, "encoding": {"x": {"field": "site", "type": "quantitative", "axis": null}, "y": {"datum": 0, "type": "quantitative", "axis": null}, "y2": {"datum": 114}}},
        {"data": {"name": "runs"}, "transform": [{"filter": "datum.week == 8"}], "mark": {"type": "rect", "color": "#000000"}, "encoding": {"x": {"field": "site", "type": "quantitative", "axis": null}, "x2": {"field": "site_end"}, "y": {"field": "v", "type": "quantitative", "axis": {"orient": "right", "title": null, "values": [0, 25, 50, 75, 100], "labelExpr": "datum.value == 0 ? '' : datum.label"}}, "y2": {"datum": 0}}},
        {"data": {"name": "bars"}, "transform": [{"filter": "datum.week == 8"}], "mark": {"type": "rule", "strokeWidth": 4}, "encoding": {"x": {"field": "site", "type": "quantitative", "axis": null}, "y": {"field": "v", "type": "quantitative", "scale": {"domain": [0, 100], "nice": false}, "axis": {"orient": "left", "title": null, "values": [0, 25, 50, 75, 100], "labelExpr": "datum.value == 0 ? '' : datum.label"}}, "y2": {"datum": 0}, "color": {"field": "k", "type": "nominal", "legend": null}}},
        {"data": {"name": "panels"}, "transform": [{"filter": "datum.week == 8"}], "mark": {"type": "text", "align": "right", "baseline": "alphabetic", "lineBreak": "\n", "lineHeight": 52, "fontSize": 54}, "encoding": {"x": {"datum": 197.8, "type": "quantitative", "axis": null}, "y": {"datum": 86, "type": "quantitative", "axis": null}, "text": {"field": "label"}}}
      ],
      "resolve": {"axis": {"y": "independent"}}
    },
    {
      "width": 3166, "height": 238,
      "layer": [
        {"data": {"name": "bands"}, "mark": {"type": "rect", "color": "#d9d9d9"}, "encoding": {"x": {"field": "site", "type": "quantitative", "scale": {"domain": [75.3, 1303.3], "nice": false, "zero": false}, "axis": null}, "x2": {"field": "site_end"}, "y": {"datum": 0, "type": "quantitative", "axis": null}, "y2": {"datum": 114}}},
        {"data": {"name": "guide"}, "mark": {"type": "rule", "color": "#d9d9d9", "strokeWidth": 3}, "encoding": {"x": {"field": "site", "type": "quantitative", "axis": null}, "y": {"datum": 0, "type": "quantitative", "axis": null}, "y2": {"datum": 114}}},
        {"data": {"name": "runs"}, "transform": [{"filter": "datum.week == 9"}], "mark": {"type": "rect", "color": "#000000"}, "encoding": {"x": {"field": "site", "type": "quantitative", "axis": null}, "x2": {"field": "site_end"}, "y": {"field": "v", "type": "quantitative", "axis": {"orient": "right", "title": null, "values": [0, 25, 50, 75, 100], "labelExpr": "datum.value == 0 ? '' : datum.label"}}, "y2": {"datum": 0}}},
        {"data": {"name": "bars"}, "transform": [{"filter": "datum.week == 9"}], "mark": {"type": "rule", "strokeWidth": 4}, "encoding": {"x": {"field": "site", "type": "quantitative", "axis": null}, "y": {"field": "v", "type": "quantitative", "scale": {"domain": [0, 100], "nice": false}, "axis": {"orient": "left", "title": null, "values": [0, 25, 50, 75, 100], "labelExpr": "datum.value == 0 ? '' : datum.label"}}, "y2": {"datum": 0}, "color": {"field": "k", "type": "nominal", "legend": null}}},
        {"data": {"name": "panels"}, "transform": [{"filter": "datum.week == 9"}], "mark": {"type": "text", "align": "right", "baseline": "alphabetic", "lineBreak": "\n", "lineHeight": 52, "fontSize": 54}, "encoding": {"x": {"datum": 197.8, "type": "quantitative", "axis": null}, "y": {"datum": 86, "type": "quantitative", "axis": null}, "text": {"field": "label"}}}
      ],
      "resolve": {"axis": {"y": "independent"}}
    },
    {
      "width": 3166, "height": 238,
      "layer": [
        {"data": {"name": "bands"}, "mark": {"type": "rect", "color": "#d9d9d9"}, "encoding": {"x": {"field": "site", "type": "quantitative", "scale": {"domain": [75.3, 1303.3], "nice": false, "zero": false}, "axis": null}, "x2": {"field": "site_end"}, "y": {"datum": 0, "type": "quantitative", "axis": null}, "y2": {"datum": 114}}},
        {"data": {"name": "guide"}, "mark": {"type": "rule", "color": "#d9d9d9", "strokeWidth": 3}, "encoding": {"x": {"field": "site", "type": "quantitative", "axis": null}, "y": {"datum": 0, "type": "quantitative", "axis": null}, "y2": {"datum": 114}}},
        {"data": {"name": "runs"}, "transform": [{"filter": "datum.week == 10"}], "mark": {"type": "rect", "color": "#000000"}, "encoding": {"x": {"field": "site", "type": "quantitative", "axis": null}, "x2": {"field": "site_end"}, "y": {"field": "v", "type": "quantitative", "axis": {"orient": "right", "title": null, "values": [0, 25, 50, 75, 100], "labelExpr": "datum.value == 0 ? '' : datum.label"}}, "y2": {"datum": 0}}},
        {"data": {"name": "bars"}, "transform": [{"filter": "datum.week == 10"}], "mark": {"type": "rule", "strokeWidth": 4}, "encoding": {"x": {"field": "site", "type": "quantitative", "axis": null}, "y": {"field": "v", "type": "quantitative", "scale": {"domain": [0, 100], "nice": false}, "axis": {"orient": "left", "title": null, "values": [0, 25, 50, 75, 100], "labelExpr": "datum.value == 0 ? '' : datum.label"}}, "y2": {"datum": 0}, "color": {"field": "k", "type": "nominal", "legend": null}}},
        {"data": {"name": "panels"}, "transform": [{"filter": "datum.week == 10"}], "mark": {"type": "text", "align": "right", "baseline": "alphabetic", "lineBreak": "\n", "lineHeight": 52, "fontSize": 54}, "encoding": {"x": {"datum": 197.8, "type": "quantitative", "axis": null}, "y": {"datum": 86, "type": "quantitative", "axis": null}, "text": {"field": "label"}}}
      ],
      "resolve": {"axis": {"y": "independent"}}
    },
    {
      "width": 3166, "height": 238,
      "layer": [
        {"data": {"name": "bands"}, "mark": {"type": "rect", "color": "#d9d9d9"}, "encoding": {"x": {"field": "site", "type": "quantitative", "scale": {"domain": [75.3, 1303.3], "nice": false, "zero": false}, "axis": null}, "x2": {"field": "site_end"}, "y": {"datum": 0, "type": "quantitative", "axis": null}, "y2": {"datum": 114}}},
        {"data": {"name": "guide"}, "mark": {"type": "rule", "color": "#d9d9d9", "strokeWidth": 3}, "encoding": {"x": {"field": "site", "type": "quantitative", "axis": null}, "y": {"datum": 0, "type": "quantitative", "axis": null}, "y2": {"datum": 114}}},
        {"data": {"name": "runs"}, "transform": [{"filter": "datum.week == 14"}], "mark": {"type": "rect", "color": "#000000"}, "encoding": {"x": {"field": "site", "type": "quantitative", "axis": null}, "x2": {"field": "site_end"}, "y": {"field": "v", "type": "quantitative", "axis": {"orient": "right", "title": null, "values": [0, 25, 50, 75, 100], "labelExpr": "datum.value == 0 ? '' : datum.label"}}, "y2": {"datum": 0}}},
        {"data": {"name": "bars"}, "transform": [{"filter": "datum.week == 14"}], "mark": {"type": "rule", "strokeWidth": 4}, "encoding": {"x": {"field": "site", "type": "quantitative", "axis": null}, "y": {"field": "v", "type": "quantitative", "scale": {"domain": [0, 100], "nice": false}, "axis": {"orient": "left", "title": null, "values": [0, 25, 50, 75, 100], "labelExpr": "datum.value == 0 ? '' : datum.label"}}, "y2": {"datum": 0}, "color": {"field": "k", "type": "nominal", "legend": null}}},
        {"data": {"name": "panels"}, "transform": [{"filter": "datum.week == 14"}], "mark": {"type": "text", "align": "right", "baseline": "alphabetic", "lineBreak": "\n", "lineHeight": 52, "fontSize": 54}, "encoding": {"x": {"datum": 197.8, "type": "quantitative", "axis": null}, "y": {"datum": 86, "type": "quantitative", "axis": null}, "text": {"field": "label"}}}
      ],
      "resolve": {"axis": {"y": "independent"}}
    },
    {
      "width": 3166, "height": 238,
      "layer": [
        {"data": {"name": "bands"}, "mark": {"type": "rect", "color": "#d9d9d9"}, "encoding": {"x": {"field": "site", "type": "quantitative", "scale": {"domain": [75.3, 1303.3], "nice": false, "zero": false}, "axis": null}, "x2": {"field": "site_end"}, "y": {"datum": 0, "type": "quantitative", "axis": null}, "y2": {"datum": 114}}},
        {"data": {"name": "guide"}, "mark": {"type": "rule", "color": "#d9d9d9", "strokeWidth": 3}, "encoding": {"x": {"field": "site", "type": "quantitative", "axis": null}, "y": {"datum": 0, "type": "quantitative", "axis": null}, "y2": {"datum": 114}}},
        {"data": {"name": "runs"}, "transform": [{"filter": "datum.week == 20"}], "mark": {"type": "rect", "color": "#000000"}, "encoding": {"x": {"field": "site", "type": "quantitative", "axis": null}, "x2": {"field": "site_end"}, "y": {"field": "v", "type": "quantitative", "axis": {"orient": "right", "title": null, "values": [0, 25, 50, 75, 100], "labelExpr": "datum.value == 0 ? '' : datum.label"}}, "y2": {"datum": 0}}},
        {"data": {"name": "bars"}, "transform": [{"filter": "datum.week == 20"}], "mark": {"type": "rule", "strokeWidth": 4}, "encoding": {"x": {"field": "site", "type": "quantitative", "axis": null}, "y": {"field": "v", "type": "quantitative", "scale": {"domain": [0, 100], "nice": false}, "axis": {"orient": "left", "title": null, "values": [0, 25, 50, 75, 100], "labelExpr": "datum.value == 0 ? '' : datum.label"}}, "y2": {"datum": 0}, "color": {"field": "k", "type": "nominal", "legend": null}}},
        {"data": {"name": "panels"}, "transform": [{"filter": "datum.week == 20"}], "mark": {"type": "text", "align": "right", "baseline": "alphabetic", "lineBreak": "\n", "lineHeight": 52, "fontSize": 54}, "encoding": {"x": {"datum": 197.8, "type": "quantitative", "axis": null}, "y": {"datum": 86, "type": "quantitative", "axis": null}, "text": {"field": "label"}}}
      ],
      "resolve": {"axis": {"y": "independent"}}
    },
    {
      "width": 3166, "height": 238,
      "layer": [
        {"data": {"name": "bands"}, "mark": {"type": "rect", "color": "#d9d9d9"}, "encoding": {"x": {"field": "site", "type": "quantitative", "scale": {"domain": [75.3, 1303.3], "nice": false, "zero": false}, "axis": null}, "x2": {"field": "site_end"}, "y": {"datum": 0, "type": "quantitative", "axis": null}, "y2": {"datum": 114}}},
        {"data": {"name": "guide"}, "mark": {"type": "rule", "color": "#d9d9d9", "strokeWidth": 3}, "encoding": {"x": {"field": "site", "type": "quantitative", "axis": null}, "y": {"datum": 0, "type": "quantitative", "axis": null}, "y2": {"datum": 114}}},
        {"data": {"name": "runs"}, "transform": [{"filter": "datum.week == 22"}], "mark": {"type": "rect", "color": "#000000"}, "encoding": {"x": {"field": "site", "type": "quantitative", "axis": null}, "x2": {"field": "site_end"}, "y": {"field": "v", "type": "quantitative", "axis": {"orient": "right", "title": null, "values": [0, 25, 50, 75, 100], "labelExpr": "datum.value == 0 ? '' : datum.label"}}, "y2": {"datum": 0}}},
        {"data": {"name": "bars"}, "transform": [{"filter": "datum.week == 22"}], "mark": {"type": "rule", "strokeWidth": 4}, "encoding": {"x": {"field": "site", "type": "quantitative", "axis": null}, "y": {"field": "v", "type": "quantitative", "scale": {"domain": [0, 100], "nice": false}, "axis": {"orient": "left", "title": null, "values": [0, 25, 50, 75, 100], "labelExpr": "datum.value == 0 ? '' : datum.label"}}, "y2": {"datum": 0}, "color": {"field": "k", "type": "nominal", "legend": null}}},
        {"data": {"name": "panels"}, "transform": [{"filter": "datum.week == 22"}], "mark": {"type": "text", "align": "right", "baseline": "alphabetic", "lineBreak": "\n", "lineHeight": 52, "fontSize": 54}, "encoding": {"x": {"datum": 197.8, "type": "quantitative", "axis": null}, "y": {"datum": 86, "type": "quantitative", "axis": null}, "text": {"field": "label"}}}
      ],
      "resolve": {"axis": {"y": "independent"}}
    },
    {
      "width": 3166, "height": 238,
      "layer": [
        {"data": {"name": "bands"}, "mark": {"type": "rect", "color": "#d9d9d9"}, "encoding": {"x": {"field": "site", "type": "quantitative", "scale": {"domain": [75.3, 1303.3], "nice": false, "zero": false}, "axis": null}, "x2": {"field": "site_end"}, "y": {"datum": 0, "type": "quantitative", "axis": null}, "y2": {"datum": 114}}},
        {"data": {"name": "guide"}, "mark": {"type": "rule", "color": "#d9d9d9", "strokeWidth": 3}, "encoding": {"x": {"field": "site", "type": "quantitative", "axis": null}, "y": {"datum": 0, "type": "quantitative", "axis": null}, "y2": {"datum": 114}}},
        {"data": {"name": "runs"}, "transform": [{"filter": "datum.week == 30"}], "mark": {"type": "rect", "color": "#000000"}, "encoding": {"x": {"field": "site", "type": "quantitative", "axis": null}, "x2": {"field": "site_end"}, "y": {"field": "v", "type": "quantitative", "axis": {"orient": "right", "title": null, "values": [0, 25, 50, 75, 100], "labelExpr": "datum.value == 0 ? '' : datum.label"}}, "y2": {"datum": 0}}},
        {"data": {"name": "bars"}, "transform": [{"filter": "datum.week == 30"}], "mark": {"type": "rule", "strokeWidth": 4}, "encoding": {"x": {"field": "site", "type": "quantitative", "axis": null}, "y": {"field": "v", "type": "quantitative", "scale": {"domain": [0, 100], "nice": false}, "axis": {"orient": "left", "title": null, "values": [0, 25, 50, 75, 100], "labelExpr": "datum.value == 0 ? '' : datum.label"}}, "y2": {"datum": 0}, "color": {"field": "k", "type": "nominal", "legend": null}}},
        {"data": {"name": "panels"}, "transform": [{"filter": "datum.week == 30"}], "mark": {"type": "text", "align": "right", "baseline": "alphabetic", "lineBreak": "\n", "lineHeight": 52, "fontSize": 54}, "encoding": {"x": {"datum": 197.8, "type": "quantitative", "axis": null}, "y": {"datum": 86, "type": "quantitative", "axis": null}, "text": {"field": "label"}}}
      ],
      "resolve": {"axis": {"y": "independent"}}
    },
    {
      "width": 3166, "height": 238,
      "layer": [
        {"data": {"name": "bands"}, "mark": {"type": "rect", "color": "#d9d9d9"}, "encoding": {"x": {"field": "site", "type": "quantitative", "scale": {"domain": [75.3, 1303.3], "nice": false, "zero": false}, "axis": null}, "x2": {"field": "site_end"}, "y": {"datum": 0, "type": "quantitative", "axis": null}, "y2": {"datum": 114}}},
        {"data": {"name": "guide"}, "mark": {"type": "rule", "color": "#d9d9d9", "strokeWidth": 3}, "encoding": {"x": {"field": "site", "type": "quantitative", "axis": null}, "y": {"datum": 0, "type": "quantitative", "axis": null}, "y2": {"datum": 114}}},
        {"data": {"name": "runs"}, "transform": [{"filter": "datum.week == 53"}], "mark": {"type": "rect", "color": "#000000"}, "encoding": {"x": {"field": "site", "type": "quantitative", "axis": null}, "x2": {"field": "site_end"}, "y": {"field": "v", "type": "quantitative", "axis": {"orient": "right", "title": null, "values": [0, 25, 50, 75, 100], "labelExpr": "datum.value == 0 ? '' : datum.label"}}, "y2": {"datum": 0}}},
        {"data": {"name": "bars"}, "transform": [{"filter": "datum.week == 53"}], "mark": {"type": "rule", "strokeWidth": 4}, "encoding": {"x": {"field": "site", "type": "quantitative", "axis": null}, "y": {"field": "v", "type": "quantitative", "scale": {"domain": [0, 100], "nice": false}, "axis": {"orient": "left", "title": null, "values": [0, 25, 50, 75, 100], "labelExpr": "datum.value == 0 ? '' : datum.label"}}, "y2": {"datum": 0}, "color": {"field": "k", "type": "nominal", "legend": null}}},
        {"data": {"name": "panels"}, "transform": [{"filter": "datum.week == 53"}], "mark": {"type": "text", "align": "right", "baseline": "alphabetic", "lineBreak": "\n", "lineHeight": 52, "fontSize": 54}, "encoding": {"x": {"datum": 197.8, "type": "quantitative", "axis": null}, "y": {"datum": 86, "type": "quantitative", "axis": null}, "text": {"field": "label"}}}
      ],
      "resolve": {"axis": {"y": "independent"}}
    },
    {
      "width": 3166, "height": 238,
      "layer": [
        {"data": {"name": "bands"}, "mark": {"type": "rect", "color": "#d9d9d9"}, "encoding": {"x": {"field": "site", "type": "quantitative", "scale": {"domain": [75.3, 1303.3], "nice": false, "zero": false}, "axis": null}, "x2": {"field": "site_end"}, "y": {"datum": 0, "type": "quantitative", "axis": null}, "y2": {"datum": 114}}},
        {"data": {"name": "guide"}, "mark": {"type": "rule", "color": "#d9d9d9", "strokeWidth": 3}, "encoding": {"x": {"field": "site", "type": "quantitative", "axis": null}, "y": {"datum": 0, "type": "quantitative", "axis": null}, "y2": {"datum": 114}}},
        {"data": {"name": "runs"}, "transform": [{"filter": "datum.week == 78"}], "mark": {"type": "rect", "color": "#000000"}, "encoding": {"x": {"field": "site", "type": "quantitative", "axis": null}, "x2": {"field": "site_end"}, "y": {"field": "v", "type": "quantitative", "axis": {"orient": "right", "title": null, "values": [0, 25, 50, 75, 100], "labelExpr": "datum.value == 0 ? '' : datum.label"}}, "y2": {"datum": 0}}},
        {"data": {"name": "bars"}, "transform": [{"filter": "datum.week == 78"}], "mark": {"type": "rule", "strokeWidth": 4}, "encoding": {"x": {"field": "site", "type": "quantitative", "axis": null}, "y": {"field": "v", "type": "quantitative", "scale": {"domain": [0, 100], "nice": false}, "axis": {"orient": "left", "title": null, "values": [0, 25, 50, 75, 100], "labelExpr": "datum.value == 0 ? '' : datum.label"}}, "y2": {"datum": 0}, "color": {"field": "k", "type": "nominal", "legend": null}}},
        {"data": {"name": "panels"}, "transform": [{"filter": "datum.week == 78"}], "mark": {"type": "text", "align": "right", "baseline": "alphabetic", "lineBreak": "\n", "lineHeight": 52, "fontSize": 54}, "encoding": {"x": {"datum": 197.8, "type": "quantitative", "axis": null}, "y": {"datum": 86, "type": "quantitative", "axis": null}, "text": {"field": "label"}}}
      ],
      "resolve": {"axis": {"y": "independent"}}
    },
    {
      "width": 3166, "height": 238,
      "layer": [
        {"data": {"name": "bands"}, "mark": {"type": "rect", "color": "#d9d9d9"}, "encoding": {"x": {"field": "site", "type": "quantitative", "scale": {"domain": [75.3, 1303.3], "nice": false, "zero": false}, "axis": null}, "x2": {"field": "site_end"}, "y": {"datum": 0, "type": "quantitative", "axis": null}, "y2": {"datum": 114}}},
        {"data": {"name": "guide"}, "mark": {"type": "rule", "color": "#d9d9d9", "strokeWidth": 3}, "encoding": {"x": {"field": "site", "type": "quantitative", "axis": null}, "y": {"datum": 0, "type": "quantitative", "axis": null}, "y2": {"datum": 114}}},
        {"data": {"name": "runs"}, "transform": [{"filter": "datum.week == 100"}], "mark": {"type": "rect", "color": "#000000"}, "encoding": {"x": {"field": "site", "type": "quantitative", "axis": null}, "x2": {"field": "site_end"}, "y": {"field": "v", "type": "quantitative", "axis": {"orient": "right", "title": null, "values": [0, 25, 50, 75, 100], "labelExpr": "datum.value == 0 ? '' : datum.label"}}, "y2": {"datum": 0}}},
        {"data": {"name": "bars"}, "transform": [{"filter": "datum.week == 100"}], "mark": {"type": "rule", "strokeWidth": 4}, "encoding": {"x": {"field": "site", "type": "quantitative", "axis": null}, "y": {"field": "v", "type": "quantitative", "scale": {"domain": [0, 100], "nice": false}, "axis": {"orient": "left", "title": null, "values": [0, 25, 50, 75, 100], "labelExpr": "datum.value == 0 ? '' : datum.label"}}, "y2": {"datum": 0}, "color": {"field": "k", "type": "nominal", "legend": null}}},
        {"data": {"name": "panels"}, "transform": [{"filter": "datum.week == 100"}], "mark": {"type": "text", "align": "right", "baseline": "alphabetic", "lineBreak": "\n", "lineHeight": 52, "fontSize": 54}, "encoding": {"x": {"datum": 197.8, "type": "quantitative", "axis": null}, "y": {"datum": 86, "type": "quantitative", "axis": null}, "text": {"field": "label"}}}
      ],
      "resolve": {"axis": {"y": "independent"}}
    },
    {
      "width": 3166, "height": 238,
      "layer": [
        {"data": {"name": "bands"}, "mark": {"type": "rect", "color": "#d9d9d9"}, "encoding": {"x": {"field": "site", "type": "quantitative", "scale": {"domain": [75.3, 1303.3], "nice": false, "zero": false}, "axis": null}, "x2": {"field": "site_end"}, "y": {"datum": 0, "type": "quantitative", "axis": null}, "y2": {"datum": 114}}},
        {"data": {"name": "guide"}, "mark": {"type": "rule", "color": "#d9d9d9", "strokeWidth": 3}, "encoding": {"x": {"field": "site", "type": "quantitative", "axis": null}, "y": {"datum": 0, "type": "quantitative", "axis": null}, "y2": {"datum": 114}}},
        {"data": {"name": "runs"}, "transform": [{"filter": "datum.week == 136"}], "mark": {"type": "rect", "color": "#000000"}, "encoding": {"x": {"field": "site", "type": "quantitative", "axis": null}, "x2": {"field": "site_end"}, "y": {"field": "v", "type": "quantitative", "axis": {"orient": "right", "title": null, "values": [0, 25, 50, 75, 100], "labelExpr": "datum.value == 0 ? '' : datum.label"}}, "y2": {"datum": 0}}},
        {"data": {"name": "bars"}, "transform": [{"filter": "datum.week == 136"}], "mark": {"type": "rule", "strokeWidth": 4}, "encoding": {"x": {"field": "site", "type": "quantitative", "axis": null}, "y": {"field": "v", "type": "quantitative", "scale": {"domain": [0, 100], "nice": false}, "axis": {"orient": "left", "title": null, "values": [0, 25, 50, 75, 100], "labelExpr": "datum.value == 0 ? '' : datum.label"}}, "y2": {"datum": 0}, "color": {"field": "k", "type": "nominal", "legend": null}}},
        {"data": {"name": "panels"}, "transform": [{"filter": "datum.week == 136"}], "mark": {"type": "text", "align": "right", "baseline": "alphabetic", "lineBreak": "\n", "lineHeight": 52, "fontSize": 54}, "encoding": {"x": {"datum": 197.8, "type": "quantitative", "axis": null}, "y": {"datum": 86, "type": "quantitative", "axis": null}, "text": {"field": "label"}}}
      ],
      "resolve": {"axis": {"y": "independent"}}
    },
    {
      "width": 3166, "height": 238,
      "layer": [
        {"data": {"name": "bands"}, "mark": {"type": "rect", "color": "#d9d9d9"}, "encoding": {"x": {"field": "site", "type": "quantitative", "scale": {"domain": [75.3, 1303.3], "nice": false, "zero": false}, "axis": {"orient": "bottom", "title": "Env site", "values": [75.3, 283.5, 432.5, 563.7, 696, 831.7, 960.8, 1091.5, 1228, 1303.3], "labelExpr": "datum.value < 100 || datum.value > 1300 ? '' : datum.value < 300 ? '100' : datum.value < 500 ? '200' : datum.value < 600 ? '300' : datum.value < 750 ? '400' : datum.value < 900 ? '500' : datum.value < 1000 ? '600' : datum.value < 1150 ? '700' : '800'", "tickSize": 13, "labelPadding": 14, "domainWidth": 6, "titlePadding": 6, "offset": 4}}, "x2": {"field": "site_end"}, "y": {"datum": 0, "type": "quantitative", "axis": null}, "y2": {"datum": 114}}},
        {"data": {"name": "guide"}, "mark": {"type": "rule", "color": "#d9d9d9", "strokeWidth": 3}, "encoding": {"x": {"field": "site", "type": "quantitative", "axis": null}, "y": {"datum": 0, "type": "quantitative", "axis": null}, "y2": {"datum": 114}}},
        {"data": {"name": "runs"}, "transform": [{"filter": "datum.week == 160"}], "mark": {"type": "rect", "color": "#000000"}, "encoding": {"x": {"field": "site", "type": "quantitative", "axis": null}, "x2": {"field": "site_end"}, "y": {"field": "v", "type": "quantitative", "axis": {"orient": "right", "title": null, "values": [0, 25, 50, 75, 100], "labelExpr": "datum.value == 0 ? '' : datum.label"}}, "y2": {"datum": 0}}},
        {"data": {"name": "bars"}, "transform": [{"filter": "datum.week == 160"}], "mark": {"type": "rule", "strokeWidth": 4}, "encoding": {"x": {"field": "site", "type": "quantitative", "axis": null}, "y": {"field": "v", "type": "quantitative", "scale": {"domain": [0, 100], "nice": false}, "axis": {"orient": "left", "title": null, "values": [0, 25, 50, 75, 100], "labelExpr": "datum.value == 0 ? '' : datum.label"}}, "y2": {"datum": 0}, "color": {"field": "k", "type": "nominal", "legend": null}}},
        {"data": {"name": "panels"}, "transform": [{"filter": "datum.week == 160"}], "mark": {"type": "text", "align": "right", "baseline": "alphabetic", "lineBreak": "\n", "lineHeight": 52, "fontSize": 54}, "encoding": {"x": {"datum": 197.8, "type": "quantitative", "axis": null}, "y": {"datum": 86, "type": "quantitative", "axis": null}, "text": {"field": "label"}}}
      ],
      "resolve": {"axis": {"x": "independent", "y": "independent"}}
    }
  ]
}
